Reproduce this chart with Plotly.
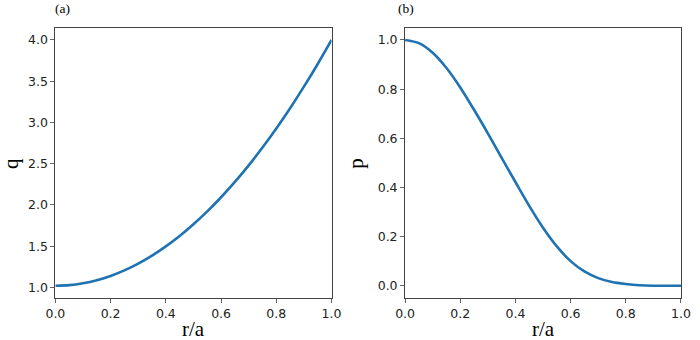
import plotly.graph_objects as go

# Data
r_vals = [0.00, 0.05, 0.10, 0.15, 0.20, 0.25, 0.30, 0.35, 0.40, 0.45, 0.50,
          0.55, 0.60, 0.65, 0.70, 0.75, 0.80, 0.85, 0.90, 0.95, 1.00]
q_vals = [1.020, 1.027, 1.050, 1.087, 1.139, 1.206, 1.288, 1.385, 1.497, 1.623, 1.765,
          1.921, 2.093, 2.279, 2.480, 2.696, 2.927, 3.173, 3.434, 3.709, 4.000]
p_vals = [1.000, 0.987, 0.948, 0.886, 0.807, 0.716, 0.620, 0.520, 0.422, 0.325, 0.236,
          0.160, 0.100, 0.058, 0.031, 0.015, 0.007, 0.002, 0.000, 0.000, 0.000]

x_ticks = [0.0, 0.2, 0.4, 0.6, 0.8, 1.0]
q_ticks = [1.0, 1.5, 2.0, 2.5, 3.0, 3.5, 4.0]
p_ticks = [0.0, 0.2, 0.4, 0.6, 0.8, 1.0]

LINE = "#1f73b2"
W, H = 700, 340

fig = go.Figure()
fig.add_trace(go.Scatter(x=r_vals, y=q_vals, mode="lines",
                         line=dict(color=LINE, width=2.6, shape="spline", smoothing=0.8),
                         xaxis="x", yaxis="y", showlegend=False, hoverinfo="skip"))
fig.add_trace(go.Scatter(x=r_vals, y=p_vals, mode="lines",
                         line=dict(color=LINE, width=2.6, shape="spline", smoothing=0.8),
                         xaxis="x2", yaxis="y2", showlegend=False, hoverinfo="skip"))

ydom = [1 - 298 / H, 1 - 27.7 / H]
axis_common = dict(showline=True, linecolor="#444444", linewidth=1, mirror=True,
                   ticks="outside", ticklen=4, tickcolor="#666666", tickwidth=1,
                   showgrid=False, zeroline=False,
                   tickfont=dict(family="DejaVu Sans", size=12.5, color="#222222"))

fig.update_layout(
    width=W, height=H,
    margin=dict(l=0, r=0, t=0, b=0),
    plot_bgcolor="white", paper_bgcolor="white",
    xaxis=dict(domain=[46.7 / W, 331 / W], range=[0, 1], tickvals=x_ticks,
               ticktext=[f"{v:.1f}" for v in x_ticks], anchor="y", **axis_common),
    yaxis=dict(domain=ydom, range=[0.871, 4.149], tickvals=q_ticks,
               ticktext=[f"{v:.1f}" for v in q_ticks], anchor="x", **axis_common),
    xaxis2=dict(domain=[406.7 / W, 690.7 / W], range=[0, 1], tickvals=x_ticks,
                ticktext=[f"{v:.1f}" for v in x_ticks], anchor="y2", **axis_common),
    yaxis2=dict(domain=ydom, range=[-0.05, 1.05], tickvals=p_ticks,
                ticktext=[f"{v:.1f}" for v in p_ticks], anchor="x2", **axis_common),
)

serif = "Liberation Serif"
ann = [
    dict(text="r/a", x=(46.7 + 331) / 2 / W, y=1 - 329 / H, size=21, angle=0),
    dict(text="r/a", x=(406.7 + 690.7) / 2 / W, y=1 - 329 / H, size=21, angle=0),
    dict(text="q", x=1 / W, y=1 - 163 / H, size=21, angle=-90),
    dict(text="p", x=356 / W, y=1 - 163 / H, size=21, angle=-90),
    dict(text="(a)", x=54 / W, y=1 - 8 / H, size=13.5, angle=0),
    dict(text="(b)", x=408 / W, y=1 - 8 / H, size=13.5, angle=0),
]
for a in ann:
    fig.add_annotation(text=a["text"], x=a["x"], y=a["y"], xref="paper", yref="paper",
                       xanchor="center", yanchor="middle", showarrow=False, textangle=a["angle"],
                       font=dict(family=serif, size=a["size"], color="#000000"))

fig.write_html("out.html", config={"displayModeBar": False, "staticPlot": True},
               post_script="document.body.style.margin='0';document.body.style.padding='0';"
                           "document.documentElement.style.overflow='hidden';")
